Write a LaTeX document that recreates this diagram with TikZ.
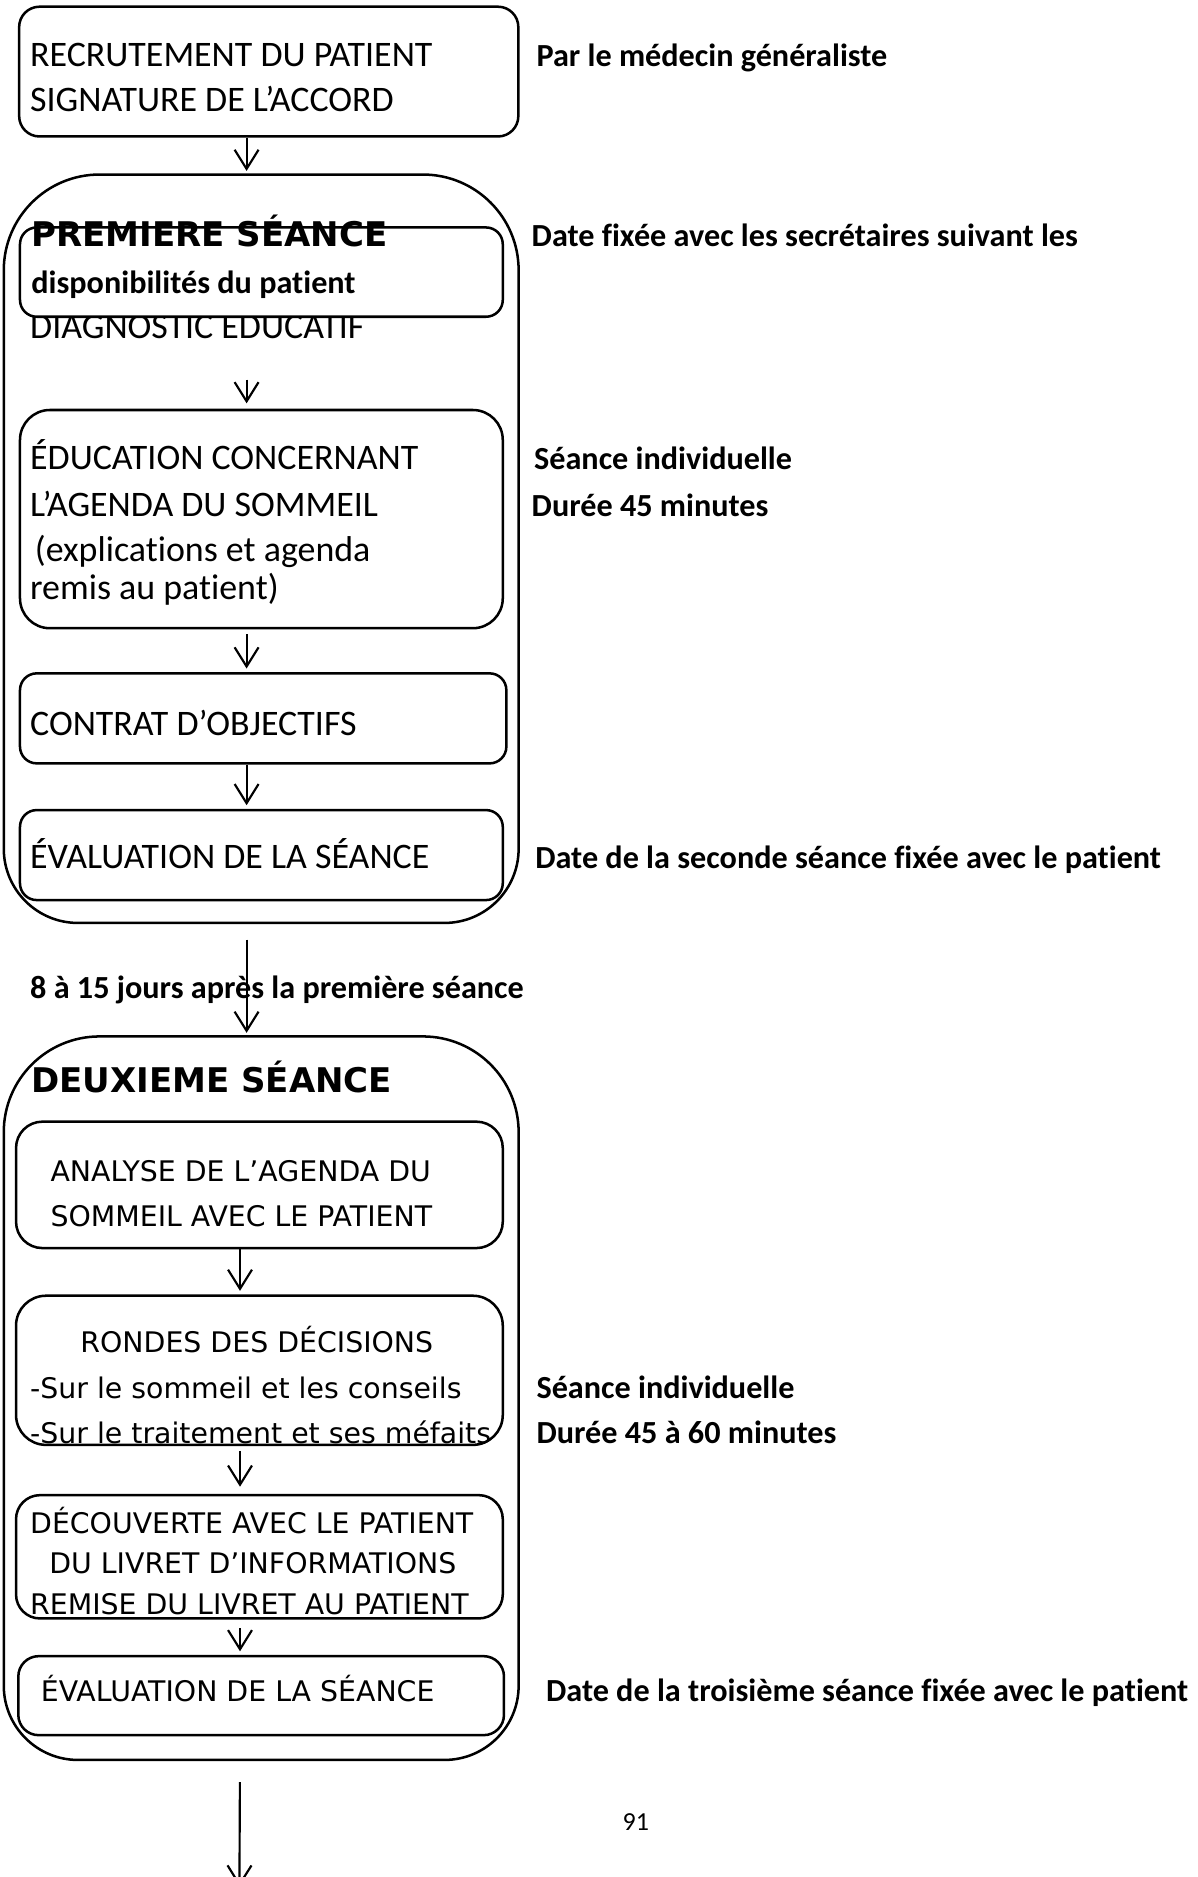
\documentclass[tikz,border=0pt]{standalone}
\usepackage{fontspec}
\setmainfont{Carlito}[Ligatures=NoCommon]
\newfontfamily\dejavu{DejaVu Sans}
\usetikzlibrary{arrows.meta}
\tikzset{
  cadre/.style={draw,line width=2.1pt,rounded corners=#1,inner sep=0pt},
  seance/.style={inner sep=0pt,minimum width=429.7pt},
  contour/.style={line width=2.1pt},
  etape/.style={anchor=base west,inner sep=0pt,font=\fontsize{30}{36}\selectfont},
  etapeb/.style={anchor=base west,inner sep=0pt,font=\dejavu\fontsize{23.7}{28}\selectfont},
  titre/.style={anchor=base west,inner sep=0pt,font=\dejavu\bfseries\fontsize{28.4}{34}\selectfont},
  note/.style={anchor=base west,inner sep=0pt,font=\bfseries\fontsize{26.9}{32}\selectfont},
  fleche/.style={-{Straight Barb[length=16pt,width=20pt]},line width=1.8pt,shorten >=3pt}
}
\begin{document}
\begin{tikzpicture}[x=1pt,y=-1pt]
\useasboundingbox(0,0)rectangle(1000,1568);
% axes des fleches
\coordinate(axeA)at(206,0);
\coordinate(axeB)at(200.5,0);
\coordinate(suite)at(200,1576);

% cadres des deux seances
\node[seance,minimum height=624.8pt](seance1)at(218.2,458.4){};
\node[seance,minimum height=604pt](seance2)at(218.2,1168){};
\foreach \s in {seance1,seance2}
  \draw[contour,rounded corners=80pt](\s.north)-|(\s.west)[rounded corners=62pt]|-(\s.south)-|(\s.east)[rounded corners=80pt]|-(\s.north);

% recrutement
\node[cadre=17pt,minimum width=417pt,minimum height=108.4pt](recrut)at(224.5,59.8){};
\node[etape](recrutA)at(25,55.7){RECRUTEMENT DU PATIENT};
\node[etape](recrutB)at(25,93.3){SIGNATURE DE L’ACCORD};

% premiere seance
\node[etape](diag)at(25,283){DIAGNOSTIC ÉDUCATIF};
\node[cadre=14pt,fill=white,minimum width=403.3pt,minimum height=74.6pt](dispo)at(218.35,227.3){};
\node[titre](titreA)at(26,206){PREMIERE SÉANCE};
\node[note](dispoA)at(26,245){disponibilités du patient};
\node[cadre=25pt,minimum width=403.3pt,minimum height=182.3pt](educ)at(218.35,433.65){};
\node[etape](educA)at(25,392.6){ÉDUCATION CONCERNANT};
\node[etape](educB)at(25,431.6){L’AGENDA DU SOMMEIL};
\node[etape](educC)at(29,469){(explications et agenda};
\node[etape](educD)at(25,501){remis au patient)};
\node[cadre=14pt,minimum width=406.3pt,minimum height=75.2pt](contrat)at(219.85,600.1){};
\node[etape](contratA)at(25,614){CONTRAT D’OBJECTIFS};
\node[cadre=14pt,minimum width=403.3pt,minimum height=75.2pt](evalA)at(218.35,714.3){};
\node[etape](evalAt)at(25,725.4){ÉVALUATION DE LA SÉANCE};

\node[note](delai)at(25,834){8 à 15 jours après la première séance};

% deuxieme seance
\node[titre](titreB)at(26,913){DEUXIEME SÉANCE};
\node[cadre=22pt,minimum width=406.6pt,minimum height=105.6pt](analyse)at(216.7,989.8){};
\node[etapeb](analyseA)at(42,987){ANALYSE DE L’AGENDA DU};
\node[etapeb](analyseB)at(42,1024.8){SOMMEIL AVEC LE PATIENT};
\node[cadre=25pt,minimum width=406.6pt,minimum height=124.6pt](rondes)at(216.7,1144.7){};
\node[etapeb](rondesA)at(67,1130){RONDES DES DÉCISIONS};
\node[etapeb](rondesB)at(25,1168){-Sur le sommeil et les conseils};
\node[etapeb](rondesC)at(25,1205.7){-Sur le traitement et ses méfaits};
\node[cadre=20pt,minimum width=406.6pt,minimum height=103pt](decouv)at(216.7,1300.5){};
\node[etapeb](decouvA)at(25,1281){DÉCOUVERTE AVEC LE PATIENT};
\node[etapeb](decouvB)at(41,1314.4){DU LIVRET D’INFORMATIONS};
\node[etapeb](decouvC)at(25,1349){REMISE DU LIVRET AU PATIENT};
\node[cadre=17pt,minimum width=405.7pt,minimum height=66pt](evalB)at(218.15,1416.5){};
\node[etapeb](evalBt)at(34,1421.6){ÉVALUATION DE LA SÉANCE};

% commentaires a droite
\node[note](par)at(448,55.7){Par le médecin généraliste};
\node[note](datefix)at(444,206){Date fixée avec les secrétaires suivant les};
\node[note](indivA)at(446,392.6){Séance individuelle};
\node[note](dureeA)at(444,431.6){Durée 45 minutes};
\node[note](seconde)at(447,725.4){Date de la seconde séance fixée avec le patient};
\node[note](indivB)at(448,1168){Séance individuelle};
\node[note](dureeB)at(448,1205.7){Durée 45 à 60 minutes};
\node[note](troisieme)at(456,1421.6){Date de la troisième séance fixée avec le patient};
\node[anchor=base west,inner sep=0pt,font=\fontsize{21.7}{26}\selectfont](page)at(520,1529){91};

% fleches
\draw[fleche](recrut.south-|axeA)--(seance1.north-|axeA);
\draw[fleche,shorten <=33.7pt,shorten >=4.5pt](diag.south-|axeA)--(educ.north-|axeA);
\draw[fleche,shorten <=4pt](educ.south-|axeA)--(contrat.north-|axeA);
\draw[fleche](contrat.south-|axeA)--(evalA.north-|axeA);
\draw[fleche,shorten <=14pt](seance1.south-|axeA)--(seance2.north-|axeA);
\draw[fleche](analyse.south-|axeB)--(rondes.north-|axeB);
\draw[fleche,shorten <=4pt,shorten >=6pt](rondes.south-|axeB)--(decouv.north-|axeB);
\draw[fleche,shorten <=7pt](decouv.south-|axeB)--(evalB.north-|axeB);
\draw[fleche,shorten <=18.5pt,shorten >=0pt](seance2.south-|axeB)--(suite);
\end{tikzpicture}
\end{document}
